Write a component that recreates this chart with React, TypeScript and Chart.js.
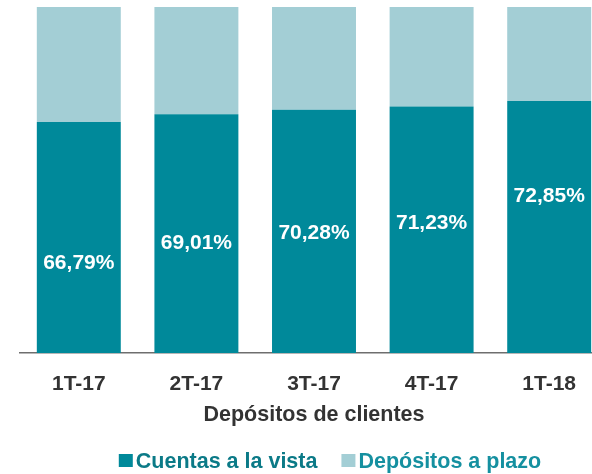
import React, { useEffect, useRef } from "react";
import { Chart, registerables } from "chart.js";

Chart.register(...registerables);

const categories = ["1T-17", "2T-17", "3T-17", "4T-17", "1T-18"];
const cuentasVista = [66.79, 69.01, 70.28, 71.23, 72.85];
const depositosPlazo = [33.21, 30.99, 29.72, 28.77, 27.15];
const valueLabels = ["66,79%", "69,01%", "70,28%", "71,23%", "72,85%"];
// vertical anchor (in value units) where each percentage label sits
const labelAnchor = [25.9, 31.7, 34.6, 37.5, 45.2];
const seriesNames = ["Cuentas a la vista", "Depósitos a plazo"];

const DARK = "#00899A";
const LIGHT = "#A3CED5";
const FONT = "'Liberation Sans', Arial, sans-serif";

const valueLabelPlugin = {
  id: "valueLabels",
  afterDatasetsDraw(chart: any) {
    const ctx = chart.ctx;
    const meta = chart.getDatasetMeta(0);
    const y = chart.scales.y;
    ctx.save();
    ctx.font = `bold 21px ${FONT}`;
    ctx.fillStyle = "#ffffff";
    ctx.textAlign = "center";
    ctx.textBaseline = "middle";
    meta.data.forEach((bar: any, i: number) => {
      ctx.fillText(valueLabels[i], bar.x, y.getPixelForValue(labelAnchor[i]));
    });
    ctx.restore();
  },
};

const legendPlugin = {
  id: "customLegend",
  afterDraw(chart: any) {
    const ctx = chart.ctx;
    const ds = chart.data.datasets;
    const textColors = ["#0B7A87", "#1590A0"];
    ctx.save();
    ctx.font = `bold 21.5px ${FONT}`;
    ctx.textBaseline = "middle";
    ctx.textAlign = "left";
    const box = 14;
    const gapBoxText = 3;
    const gapItems = 24;
    const widths = ds.map((d: any) => ctx.measureText(d.label).width);
    let total = 0;
    widths.forEach((w: number, i: number) => {
      total += box + gapBoxText + w + (i < widths.length - 1 ? gapItems : 0);
    });
    const cx = (chart.chartArea.left + chart.chartArea.right) / 2 + 16;
    const cy = chart.height - 13;
    let x = cx - total / 2;
    ds.forEach((d: any, i: number) => {
      ctx.fillStyle = d.backgroundColor;
      ctx.fillRect(x, cy - 7, box, 13);
      x += box + gapBoxText;
      ctx.fillStyle = textColors[i];
      ctx.fillText(d.label, x, cy + 1);
      x += widths[i] + gapItems;
    });
    ctx.restore();
  },
};

export default function App() {
  const ref = useRef<HTMLCanvasElement | null>(null);
  useEffect(() => {
    if (!ref.current) return;
    const chart = new Chart(ref.current, {
      type: "bar",
      data: {
        labels: categories,
        datasets: [
          {
            label: seriesNames[0],
            data: cuentasVista,
            backgroundColor: DARK,
            barPercentage: 0.714,
            categoryPercentage: 1,
          },
          {
            label: seriesNames[1],
            data: depositosPlazo,
            backgroundColor: LIGHT,
            barPercentage: 0.714,
            categoryPercentage: 1,
          },
        ],
      },
      options: {
        responsive: false,
        animation: false,
        events: [],
        layout: { padding: { left: 20, right: 0, top: 7, bottom: 46 } },
        plugins: {
          legend: { display: false },
          tooltip: { enabled: false },
        },
        scales: {
          x: {
            stacked: true,
            grid: { display: false, drawTicks: false },
            border: { display: true, color: "#6e6e6e", width: 1.5 },
            ticks: {
              padding: 19,
              color: "#333333",
              font: { family: FONT, size: 21, weight: "bold" },
            },
            title: {
              display: true,
              text: "Depósitos de clientes",
              color: "#333333",
              font: { family: FONT, size: 21.5, weight: "bold" },
              padding: { top: -14, bottom: 0 },
            },
          },
          y: {
            stacked: true,
            display: false,
            min: 0,
            max: 100,
          },
        },
      },
      plugins: [valueLabelPlugin, legendPlugin],
    });
    return () => chart.destroy();
  }, []);
  return (
    <div
      style={{
        position: "fixed",
        left: 0,
        top: 0,
        width: 592,
        height: 474,
        overflow: "hidden",
        background: "#ffffff",
      }}
    >
      <canvas ref={ref} width={608} height={474} style={{ display: "block" }} />
    </div>
  );
}
